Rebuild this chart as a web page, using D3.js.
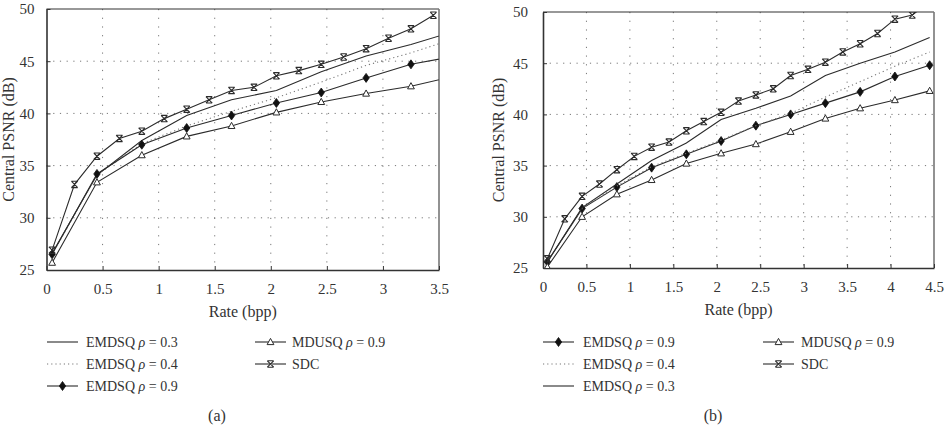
<!DOCTYPE html>
<html>
<head>
<meta charset="utf-8">
<script src="https://cdn.jsdelivr.net/npm/d3@7"></script>
<style>
  body { margin: 0; background: #fff; }
  svg text { font-family: "Liberation Serif", "DejaVu Serif", serif; fill: #333; }
</style>
</head>
<body>
<svg id="chart" width="949" height="430"></svg>
<script>
// ---- panel (a) ----
const rateSdcA = [0.05, 0.25, 0.45, 0.65, 0.85, 1.05, 1.25, 1.45, 1.65, 1.85, 2.05, 2.25, 2.45, 2.65, 2.85, 3.05, 3.25, 3.45];
const sdcA = [26.9, 33.2, 35.9, 37.6, 38.3, 39.5, 40.4, 41.3, 42.2, 42.5, 43.6, 44.1, 44.7, 45.4, 46.2, 47.2, 48.1, 49.4];
const rateA = [0.05, 0.45, 0.85, 1.25, 1.65, 2.05, 2.45, 2.85, 3.25, 3.65];
const emdsq03A = [26.6, 34.1, 37.4, 39.8, 41.3, 42.2, 44.0, 45.5, 46.6, 47.9];
const emdsq04A = [26.5, 34.1, 37.1, 38.8, 40.2, 41.5, 43.0, 44.6, 45.8, 47.2];
const emdsq09A = [26.5, 34.2, 37.0, 38.6, 39.8, 41.0, 42.0, 43.4, 44.7, 45.5];
const mdusqA = [25.7, 33.4, 36.0, 37.8, 38.8, 40.1, 41.1, 41.9, 42.6, 43.6];
const xTicksA = [0, 0.5, 1, 1.5, 2, 2.5, 3, 3.5];

// ---- panel (b) ----
const rateSdcB = [0.05, 0.25, 0.45, 0.65, 0.85, 1.05, 1.25, 1.45, 1.65, 1.85, 2.05, 2.25, 2.45, 2.65, 2.85, 3.05, 3.25, 3.45, 3.65, 3.85, 4.05, 4.25, 4.45];
const sdcB = [25.9, 29.8, 32.0, 33.2, 34.6, 35.9, 36.8, 37.3, 38.4, 39.3, 40.2, 41.3, 41.9, 42.5, 43.8, 44.4, 45.1, 46.1, 46.9, 47.9, 49.3, 49.7, 51.0];
const rateB = [0.05, 0.45, 0.85, 1.25, 1.65, 2.05, 2.45, 2.85, 3.25, 3.65, 4.05, 4.45];
const emdsq09B = [25.6, 30.8, 32.9, 34.8, 36.1, 37.4, 38.9, 40.0, 41.1, 42.2, 43.7, 44.8];
const emdsq04B = [25.6, 30.8, 33.0, 34.9, 36.2, 37.5, 38.9, 40.1, 41.7, 43.2, 44.7, 46.1];
const emdsq03B = [25.6, 30.9, 33.2, 35.5, 37.2, 39.5, 40.6, 41.8, 43.8, 45.0, 46.1, 47.5];
const mdusqB = [25.1, 30.0, 32.2, 33.6, 35.2, 36.2, 37.1, 38.3, 39.6, 40.6, 41.4, 42.3];
const xTicksB = [0, 0.5, 1, 1.5, 2, 2.5, 3, 3.5, 4, 4.5];

const yTicks = [25, 30, 35, 40, 45, 50];
const lineColor = '#2b2b2b';

const svg = d3.select('#chart');

function markerPath(type) {
  if (type === 'diamond') return 'M0,-4.5L3.2,0L0,4.5L-3.2,0Z';
  if (type === 'triangle') return 'M0,-3.6L3.4,2.6L-3.4,2.6Z';
  if (type === 'sdc') return 'M-3.2,-3.2L3.2,3.2M3.2,-3.2L-3.2,3.2M-3.2,-3.2L3.2,-3.2M-3.2,3.2L3.2,3.2';
  return null;
}

function drawMarker(g, type, x, y) {
  const p = g.append('path')
    .attr('d', markerPath(type))
    .attr('transform', `translate(${x},${y})`);
  if (type === 'diamond') p.attr('fill', '#111').attr('stroke', '#111').attr('stroke-width', 0.8);
  else if (type === 'triangle') p.attr('fill', '#fff').attr('stroke', lineColor).attr('stroke-width', 1);
  else p.attr('fill', 'none').attr('stroke', lineColor).attr('stroke-width', 1.1);
}

function labelText(sel, name, rho) {
  if (rho == null) { sel.text(name); return; }
  sel.append('tspan').text(name + ' ');
  sel.append('tspan').attr('font-style', 'italic').text('ρ');
  sel.append('tspan').text(' = ' + rho);
}

function drawPanel(cfg) {
  const { id, left, right, top, bottom, xMax, xTicks, yPad, labelX, series, legend, caption } = cfg;
  const x = d3.scaleLinear().domain([0, xMax]).range([left, right]);
  const y = d3.scaleLinear().domain([25, 50]).range([bottom, top]);
  const g = svg.append('g');

  g.append('clipPath').attr('id', 'clip-' + id)
    .append('rect').attr('x', left).attr('y', top).attr('width', right - left).attr('height', bottom - top);

  // grid
  g.append('g').selectAll('line').data(xTicks.slice(1, -1)).join('line')
    .attr('x1', (d) => x(d)).attr('x2', (d) => x(d))
    .attr('y1', top).attr('y2', bottom)
    .attr('stroke', '#777').attr('stroke-width', 1).attr('stroke-dasharray', '1.2,7.5');
  g.append('g').selectAll('line').data(yTicks.slice(1, -1)).join('line')
    .attr('x1', left).attr('x2', right)
    .attr('y1', (d) => y(d)).attr('y2', (d) => y(d))
    .attr('stroke', '#777').attr('stroke-width', 1).attr('stroke-dasharray', '1.2,5.5');

  // frame
  g.append('line').attr('x1', left).attr('x2', right).attr('y1', top).attr('y2', top)
    .attr('stroke', '#333').attr('stroke-width', 1.2);
  g.append('line').attr('x1', right).attr('x2', right).attr('y1', top).attr('y2', bottom)
    .attr('stroke', '#777').attr('stroke-width', 1.6);

  // axes
  const xAxis = g.append('g').attr('transform', `translate(0,${bottom})`)
    .call(d3.axisBottom(x).tickValues(xTicks).tickSizeInner(-4).tickSizeOuter(0).tickPadding(13)
      .tickFormat((d) => String(d)));
  const yAxis = g.append('g').attr('transform', `translate(${left},0)`)
    .call(d3.axisLeft(y).tickValues(yTicks).tickSizeInner(-4).tickSizeOuter(0).tickPadding(yPad));
  [xAxis, yAxis].forEach((a) => {
    a.select('.domain').attr('stroke', '#333').attr('stroke-width', 1.6);
    a.selectAll('.tick line').attr('stroke', '#333');
    a.selectAll('.tick text').attr('font-family', '"Liberation Serif", serif')
      .attr('font-size', 15).attr('fill', '#333');
  });

  g.append('text').attr('x', (left + right) / 2).attr('y', bottom + 47)
    .attr('text-anchor', 'middle').attr('font-size', 16).text('Rate (bpp)');
  g.append('text')
    .attr('transform', `translate(${labelX},${(top + bottom) / 2}) rotate(-90)`)
    .attr('text-anchor', 'middle').attr('font-size', 16).text('Central PSNR (dB)');

  // series
  const plot = g.append('g').attr('clip-path', `url(#clip-${id})`);
  const line = d3.line().x((d) => x(d[0])).y((d) => y(d[1]));
  series.forEach((s) => {
    const pts = s.rate.map((r, i) => [r, s.values[i]]);
    plot.append('path').datum(pts)
      .attr('d', line)
      .attr('fill', 'none')
      .attr('stroke', s.dotted ? '#777' : lineColor)
      .attr('stroke-width', 1.1)
      .attr('stroke-dasharray', s.dotted ? '1.2,3' : null);
    if (s.marker) pts.forEach((p) => drawMarker(plot, s.marker, x(p[0]), y(p[1])));
  });

  // legend
  legend.forEach((item) => {
    const s = series.find((d) => d.key === item.key);
    const lg = g.append('g').attr('transform', `translate(${item.x},${item.y})`);
    lg.append('line').attr('x1', 0).attr('x2', 31).attr('y1', 0).attr('y2', 0)
      .attr('stroke', s.dotted ? '#777' : lineColor).attr('stroke-width', 1.1)
      .attr('stroke-dasharray', s.dotted ? '1.2,3' : null);
    if (s.marker) drawMarker(lg, s.marker, 15.5, 0);
    labelText(lg.append('text').attr('x', item.tx).attr('y', 5).attr('font-size', 14), s.name, s.rho);
  });

  g.append('text').attr('x', caption.x).attr('y', caption.y)
    .attr('text-anchor', 'middle').attr('font-size', 16).text(caption.text);
}

drawPanel({
  id: 'a', left: 46.5, right: 439, top: 9, bottom: 270, xMax: 3.5, xTicks: xTicksA, yPad: 12, labelX: 14,
  series: [
    { key: 'e03', name: 'EMDSQ', rho: '0.3', rate: rateA, values: emdsq03A },
    { key: 'e04', name: 'EMDSQ', rho: '0.4', rate: rateA, values: emdsq04A, dotted: true },
    { key: 'e09', name: 'EMDSQ', rho: '0.9', rate: rateA, values: emdsq09A, marker: 'diamond' },
    { key: 'md', name: 'MDUSQ', rho: '0.9', rate: rateA, values: mdusqA, marker: 'triangle' },
    { key: 'sdc', name: 'SDC', rho: null, rate: rateSdcA, values: sdcA, marker: 'sdc' },
  ],
  legend: [
    { key: 'e03', x: 47, y: 342, tx: 39 },
    { key: 'e04', x: 47, y: 364, tx: 39 },
    { key: 'e09', x: 47, y: 386, tx: 39 },
    { key: 'md', x: 255, y: 342, tx: 37 },
    { key: 'sdc', x: 255, y: 364, tx: 37 },
  ],
  caption: { text: '(a)', x: 217, y: 421 },
});

drawPanel({
  id: 'b', left: 543, right: 934, top: 12, bottom: 268, xMax: 4.5, xTicks: xTicksB, yPad: 15, labelX: 504,
  series: [
    { key: 'e09', name: 'EMDSQ', rho: '0.9', rate: rateB, values: emdsq09B, marker: 'diamond' },
    { key: 'e04', name: 'EMDSQ', rho: '0.4', rate: rateB, values: emdsq04B, dotted: true },
    { key: 'e03', name: 'EMDSQ', rho: '0.3', rate: rateB, values: emdsq03B },
    { key: 'md', name: 'MDUSQ', rho: '0.9', rate: rateB, values: mdusqB, marker: 'triangle' },
    { key: 'sdc', name: 'SDC', rho: null, rate: rateSdcB, values: sdcB, marker: 'sdc' },
  ],
  legend: [
    { key: 'e09', x: 543, y: 342, tx: 40 },
    { key: 'e04', x: 543, y: 364, tx: 40 },
    { key: 'e03', x: 543, y: 386, tx: 40 },
    { key: 'md', x: 763, y: 342, tx: 38 },
    { key: 'sdc', x: 763, y: 364, tx: 38 },
  ],
  caption: { text: '(b)', x: 713, y: 421 },
});
</script>
</body>
</html>
